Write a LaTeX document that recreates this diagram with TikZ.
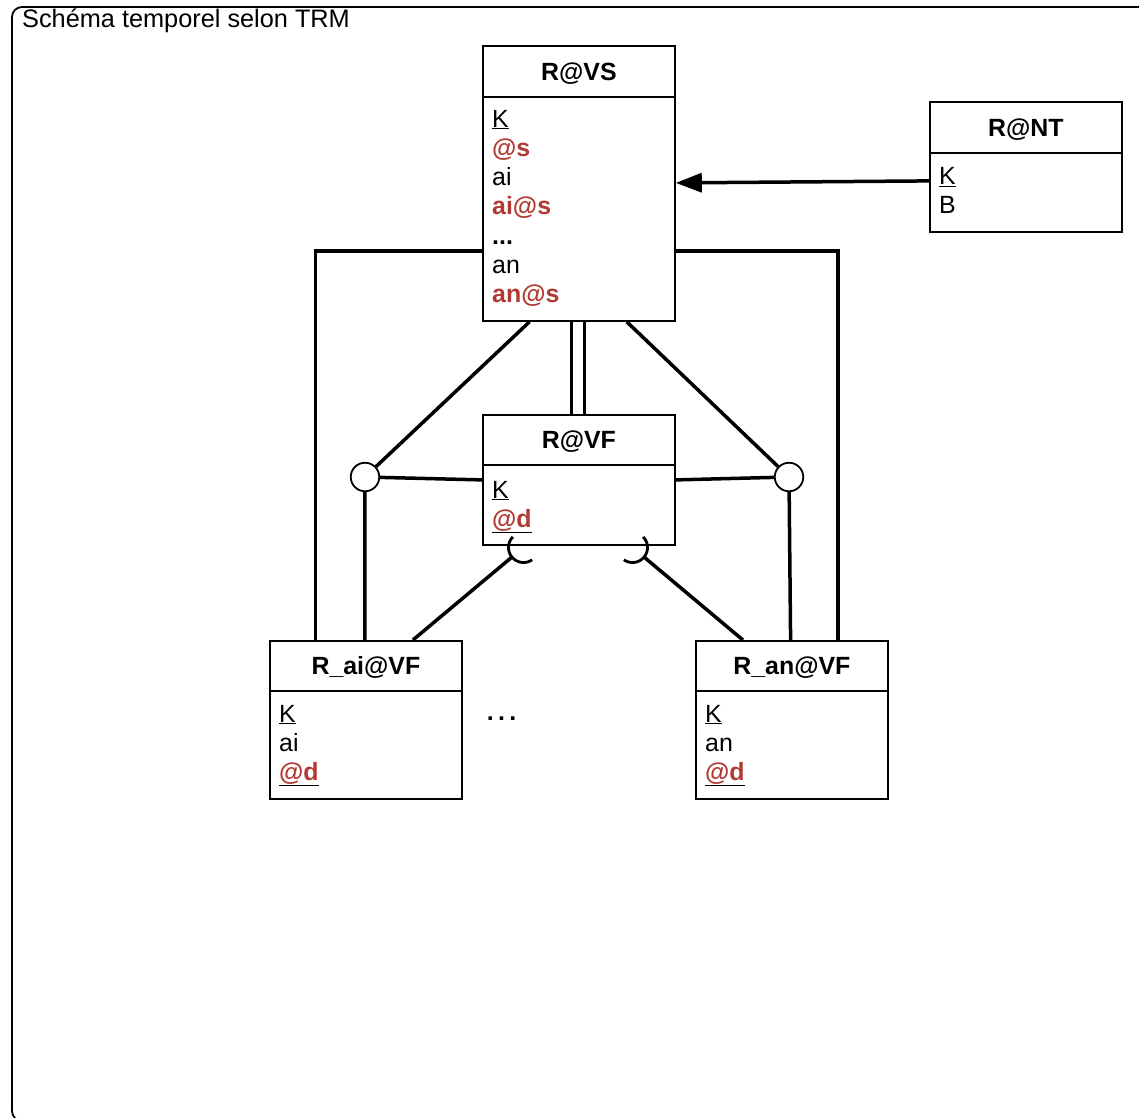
\documentclass[tikz,border=0pt]{standalone}
\usepackage{fontspec}
\setmainfont{Liberation Sans}
\usetikzlibrary{arrows.meta}
\definecolor{attr}{RGB}{178,58,52}
\newcommand\ulred[1]{$\underline{\hbox{\color{attr}\bfseries #1}}$}
\tikzset{
  hdr/.style={draw, line width=1.8bp, minimum width=192bp, anchor=north west, inner sep=0pt,
    font=\fontsize{25}{29}\selectfont\bfseries, text height=18bp, text depth=0pt},
  bdy/.style={draw, line width=1.8bp, minimum width=192bp, anchor=north west, inner sep=0pt},
  att/.style={anchor=base west, inner sep=0pt, font=\fontsize{25}{29}\selectfont},
  ratt/.style={anchor=base west, inner sep=0pt, text=attr, font=\fontsize{25}{29}\selectfont\bfseries},
  conn/.style={line width=3.5bp},
  dconn/.style={line width=3.2bp},
  circ/.style={circle, draw, line width=1.8bp, fill=white, minimum size=28.5bp, inner sep=0pt},
}
\begin{document}
\begin{tikzpicture}[x=1bp,y=-1bp]
\useasboundingbox (0,0) rectangle (1139,1118);
\clip (0,0) rectangle (1139,1118);
% frame
\draw[line width=1.8bp, rounded corners=10bp] (12,7) rectangle (1180,1121);
\node[anchor=base west, inner sep=0pt, font=\fontsize{25.4}{29}\selectfont] (title) at (22,27.5) {Schéma temporel selon TRM};

% R@VS
\node[hdr, minimum height=51bp] (vsh) at (482,45) {R@VS};
\node[bdy, minimum height=224bp] (vsb) at (482,96) {};
\node[att] (vs1) at (492,127) {\underline{K}};
\node[ratt] (vs2) at (492,156.3) {@s};
\node[att] (vs3) at (492,185.6) {ai};
\node[ratt] (vs4) at (492,214.9) {ai@s};
\node[att, font=\fontsize{25}{29}\selectfont\bfseries] (vs5) at (492,244.2) {...};
\node[att] (vs6) at (492,273.5) {an};
\node[ratt] (vs7) at (492,302.8) {an@s};

% R@NT
\node[hdr, minimum height=51bp] (nth) at (929,101) {R@NT};
\node[bdy, minimum height=79bp] (ntb) at (929,152) {};
\node[att] (nt1) at (939,184.5) {\underline{K}};
\node[att] (nt2) at (939,213) {B};

% R@VF
\node[hdr, minimum height=50bp] (vfh) at (482,414) {R@VF};
\node[bdy, minimum height=80bp] (vfb) at (482,464) {};
\node[att] (vf1) at (492,498) {\underline{K}};
\node[att] (vf2) at (492,527) {\ulred{@d}};

% R_ai@VF
\node[hdr, minimum height=50bp] (aih) at (269,640) {R\_ai@VF};
\node[bdy, minimum height=108bp] (aib) at (269,690) {};
\node[att] (ai1) at (279,722) {\underline{K}};
\node[att] (ai2) at (279,751) {ai};
\node[att] (ai3) at (279,780) {\ulred{@d}};

% R_an@VF
\node[hdr, minimum height=50bp] (anh) at (695,640) {R\_an@VF};
\node[bdy, minimum height=108bp] (anb) at (695,690) {};
\node[att] (an1) at (705,722) {\underline{K}};
\node[att] (an2) at (705,751) {an};
\node[att] (an3) at (705,780) {\ulred{@d}};

\node[anchor=base, inner sep=0pt, font=\fontsize{25}{29}\selectfont\bfseries] (dots) at (501.5,720) {.\hspace{4.3bp}.\hspace{4.3bp}.};

% connectors
\draw[conn, -{Triangle[length=26bp,width=19bp]}] ([yshift=11.5bp]ntb.west) -- ([yshift=26bp]vsb.east);

\draw[conn] ([yshift=-42bp]vsb.west) -| ([xshift=-50.5bp]aih.north);
\draw[conn] ([yshift=-42bp]vsb.east) -| ([xshift=46bp]anh.north);

\draw[dconn] ([xshift=-7.3bp]vsb.south) -- ([xshift=-7.3bp]vfh.north);
\draw[dconn] ([xshift=5.4bp]vsb.south) -- ([xshift=5.4bp]vfh.north);

\node[circ] (cl) at (365,477) {};
\node[circ] (cr) at (789,477) {};

\draw[conn] ([xshift=-49.4bp]vsb.south) -- (cl);
\draw[conn] ([xshift=47.9bp]vsb.south) -- (cr);
\draw[conn] (cl) -- ([yshift=25bp]vfb.west);
\draw[conn] (cr) -- ([yshift=25bp]vfb.east);
\draw[conn] (cl) -- ([xshift=-1bp]aih.north);
\draw[conn] (cr) -- ([xshift=-1.3bp]anh.north);

\coordinate (pl) at (512,557);
\coordinate (pr) at (644,557);
\draw[conn] ([xshift=47bp]aih.north) -- (pl);
\draw[conn] ([xshift=-49bp]anh.north) -- (pr);
\draw[line width=2.8bp] plot[smooth, domain=55:225, samples=30] ({523.5+15*cos(\x)},{547.5+15*sin(\x)});
\draw[line width=2.8bp] plot[smooth, domain=-45:125, samples=30] ({632.5+15*cos(\x)},{547.5+15*sin(\x)});
\end{tikzpicture}
\end{document}
